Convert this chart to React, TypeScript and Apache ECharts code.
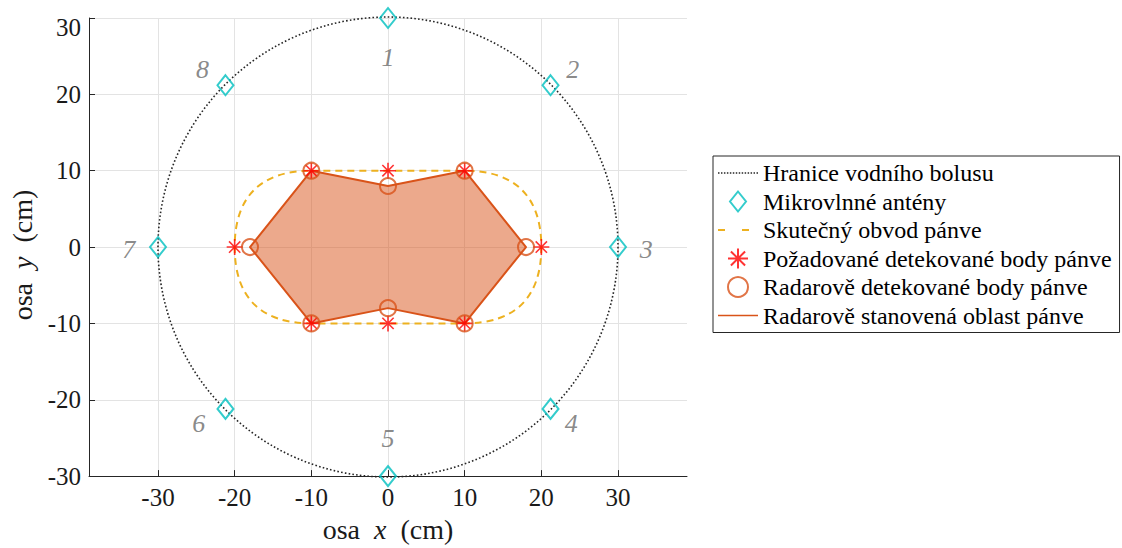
import React, { useEffect, useRef } from 'react';
import * as echarts from 'echarts';

// ---- axes ----
const tickValues = [-30, -20, -10, 0, 10, 20, 30];
const xRange = [-39, 39];
const yRange = [-30, 30];

// ---- water bolus boundary (circle: cx, cy, r) ----
const bolusCircle = [0, 0, 30];

// ---- antennas ----
const antennaX = [0, 21.2, 30, 21.2, 0, -21.2, -30, -21.2];
const antennaY = [30, 21.2, 0, -21.2, -30, -21.2, 0, 21.2];
const antennaIds = ['1', '2', '3', '4', '5', '6', '7', '8'];
const antennaLabelX = [0, 24.1, 33.7, 23.9, 0, -24.7, -33.8, -24.2];
const antennaLabelY = [24.8, 23.3, -0.3, -23.1, -25.1, -23.1, -0.3, 23.3];

// ---- real pelvis outline (rounded stadium: halfWidth, halfHeight, corner) ----
const pelvisOutline = [20, 10, 10];

// ---- required detected points ----
const requiredX = [-10, 0, 10, 20, 10, 0, -10, -20];
const requiredY = [10, 10, 10, 0, -10, -10, -10, 0];

// ---- radar detected points (also polygon vertices) ----
const radarX = [-18, -10, 0, 10, 18, 10, 0, -10];
const radarY = [0, 10, 8, 10, 0, -10, -8, -10];

const names = [
  'Hranice vodního bolusu',
  'Mikrovlnné antény',
  'Skutečný obvod pánve',
  'Požadované detekované body pánve',
  'Radarově detekované body pánve',
  'Radarově stanovená oblast pánve',
];

const FONT = 'Liberation Serif';
const CYAN = '#00BFBF';
const ORANGE = '#D95319';
const YELLOW = '#EDB120';
const RED = '#FF0000';
const DARK = '#262626';

const asteriskPath =
  'path://M9,0h2v20h-2z M0,9h20v2h-20z M3.64,2.22L17.78,16.36L16.36,17.78L2.22,3.64z M16.36,2.22L17.78,3.64L3.64,17.78L2.22,16.36z';
const diamondPath = 'path://M8,0L16,10L8,20L0,10Z';
const dottedIcon =
  'path://' +
  Array.from({ length: 14 }, (_, i) => `M${i * 3},0h1.5v1.5h-1.5z`).join(' ');
const dashedIcon = 'path://M0,0h7v2h-7z M24,0h7v2h-7z M39.9,0h0.1v0.01h-0.1z';
const solidIcon = 'path://M0,0h40v1.5h-40z';

export default function App() {
  const ref = useRef<HTMLDivElement>(null);

  useEffect(() => {
    document.body.style.margin = '0';
    if (!ref.current) return;
    const chart = echarts.init(ref.current, undefined, { renderer: 'svg' });

    const labelBase = {
      customValues: tickValues,
      fontFamily: FONT,
      fontSize: 25,
      color: '#1a1a1a',
    };

    const axisCommon = {
      type: 'value' as const,
      axisLine: { show: true, onZero: false, lineStyle: { color: DARK, width: 1 } },
      axisTick: {
        show: true,
        inside: true,
        length: 6,
        customValues: tickValues,
        lineStyle: { color: DARK, width: 1 },
      },
      axisLabel: labelBase,
      splitLine: { show: true, lineStyle: { color: '#e3e3e3', width: 1 } },
      nameLocation: 'middle' as const,
      nameTextStyle: {
        fontFamily: FONT,
        fontSize: 28,
        color: '#1a1a1a',
        rich: {
          r: { fontFamily: FONT, fontSize: 28, color: '#1a1a1a' },
          i: { fontFamily: FONT, fontSize: 28, fontStyle: 'italic', color: '#1a1a1a' },
        },
      },
    };

    const option: any = {
      animation: false,
      backgroundColor: '#ffffff',
      grid: { left: 89, top: 18, width: 598, height: 459 },
      xAxis: {
        ...axisCommon,
        min: xRange[0],
        max: xRange[1],
        axisLabel: { ...labelBase, margin: 9 },
        name: '{r|osa}  {i|x}  {r|(cm)}',
        nameGap: 26,
      },
      yAxis: {
        ...axisCommon,
        min: yRange[0],
        max: yRange[1],
        interval: 10,
        axisLabel: {
          ...labelBase,
          margin: 8,
          formatter: (v: number) => (v === yRange[1] ? `{top|${v}}` : `${v}`),
          rich: {
            top: { fontFamily: FONT, fontSize: 25, color: '#1a1a1a', padding: [18, 0, 0, 0] },
          },
        },
        name: '{r|osa}  {i|y}  {r|(cm)}',
        nameGap: 52,
        nameTextStyle: { ...axisCommon.nameTextStyle, padding: [0, 16, 0, 0] },
      },
      legend: {
        orient: 'vertical',
        left: 713,
        top: 156,
        padding: [5, 8, 5, 5],
        itemWidth: 40,
        itemHeight: 20,
        itemGap: 4.5,
        borderColor: DARK,
        borderWidth: 1,
        backgroundColor: '#ffffff',
        selectedMode: false,
        textStyle: { fontFamily: FONT, fontSize: 24, color: '#000', lineHeight: 24 },
        data: [
          { name: names[0], icon: dottedIcon, itemStyle: { color: DARK, borderWidth: 0 } },
          {
            name: names[1],
            icon: diamondPath,
            itemStyle: { color: 'rgba(0,0,0,0)', borderColor: CYAN, borderWidth: 2 },
          },
          { name: names[2], icon: dashedIcon, itemStyle: { color: YELLOW, borderWidth: 0 } },
          { name: names[3], icon: asteriskPath, itemStyle: { color: RED, borderWidth: 0 } },
          {
            name: names[4],
            icon: 'circle',
            itemStyle: { color: 'rgba(0,0,0,0)', borderColor: ORANGE, borderWidth: 2 },
          },
          { name: names[5], icon: solidIcon, itemStyle: { color: ORANGE, borderWidth: 0 } },
        ],
      },
      series: [
        {
          name: names[0],
          type: 'custom',
          silent: true,
          encode: { x: 0, y: 1 },
          data: [bolusCircle],
          renderItem: (_p: any, api: any) => {
            const c = api.coord([api.value(0), api.value(1)]);
            const r = api.size([api.value(2), 0])[0];
            return {
              type: 'circle',
              shape: { cx: c[0], cy: c[1], r },
              style: { fill: 'none', stroke: DARK, lineWidth: 1.6, lineDash: [1.6, 2.2] },
            };
          },
        },
        {
          name: names[1],
          type: 'scatter',
          silent: true,
          symbol: diamondPath,
          symbolSize: [16, 20],
          itemStyle: { color: 'rgba(0,0,0,0)', borderColor: CYAN, borderWidth: 2 },
          data: antennaX.map((x, i) => [x, antennaY[i]]),
        },
        {
          name: names[2],
          type: 'custom',
          silent: true,
          encode: { x: 0, y: 1 },
          data: [[0, 0, ...pelvisOutline]],
          renderItem: (_p: any, api: any) => {
            const hw = api.value(2);
            const hh = api.value(3);
            const cr = api.value(4);
            const k = 0.66;
            const P = (x: number, y: number) => {
              const p = api.coord([x, y]);
              return `${p[0].toFixed(2)},${p[1].toFixed(2)}`;
            };
            const ix = hw - cr;
            const d =
              `M${P(-ix, hh)} L${P(ix, hh)} ` +
              `C${P(ix + k * cr, hh)} ${P(hw, k * hh)} ${P(hw, 0)} ` +
              `C${P(hw, -k * hh)} ${P(ix + k * cr, -hh)} ${P(ix, -hh)} ` +
              `L${P(-ix, -hh)} ` +
              `C${P(-ix - k * cr, -hh)} ${P(-hw, -k * hh)} ${P(-hw, 0)} ` +
              `C${P(-hw, k * hh)} ${P(-ix - k * cr, hh)} ${P(-ix, hh)} Z`;
            return {
              type: 'path',
              shape: { pathData: d },
              style: { fill: 'none', stroke: YELLOW, lineWidth: 2, lineDash: [7, 5] },
            };
          },
        },
        {
          name: names[3],
          type: 'scatter',
          silent: true,
          symbol: asteriskPath,
          symbolSize: 16,
          itemStyle: { color: RED },
          data: requiredX.map((x, i) => [x, requiredY[i]]),
        },
        {
          name: names[4],
          type: 'scatter',
          silent: true,
          symbol: 'circle',
          symbolSize: 16,
          itemStyle: { color: 'rgba(0,0,0,0)', borderColor: ORANGE, borderWidth: 2 },
          data: radarX.map((x, i) => [x, radarY[i]]),
        },
        {
          name: names[5],
          type: 'custom',
          silent: true,
          encode: { x: 0, y: 1 },
          data: radarX.map((x, i) => [x, radarY[i]]),
          renderItem: (params: any, api: any) => {
            if (params.dataIndex !== 0) return null;
            const pts: number[][] = [];
            for (let i = 0; i < params.dataInsideLength; i++) {
              pts.push(api.coord([api.value(0, i), api.value(1, i)]));
            }
            return {
              type: 'polygon',
              shape: { points: pts },
              style: {
                fill: 'rgba(217,83,25,0.5)',
                stroke: ORANGE,
                lineWidth: 2,
                lineJoin: 'round',
              },
            };
          },
        },
        {
          name: 'antennaLabels',
          type: 'scatter',
          silent: true,
          symbol: 'circle',
          symbolSize: 1,
          itemStyle: { color: 'rgba(0,0,0,0)' },
          label: {
            show: true,
            position: 'inside',
            formatter: '{b}',
            fontFamily: FONT,
            fontStyle: 'italic',
            fontSize: 26,
            color: '#6b6b6b',
          },
          data: antennaIds.map((id, i) => ({ name: id, value: [antennaLabelX[i], antennaLabelY[i]] })),
        },
      ],
    };

    chart.setOption(option);
    return () => chart.dispose();
  }, []);

  return <div ref={ref} style={{ width: 1122, height: 548 }} />;
}
